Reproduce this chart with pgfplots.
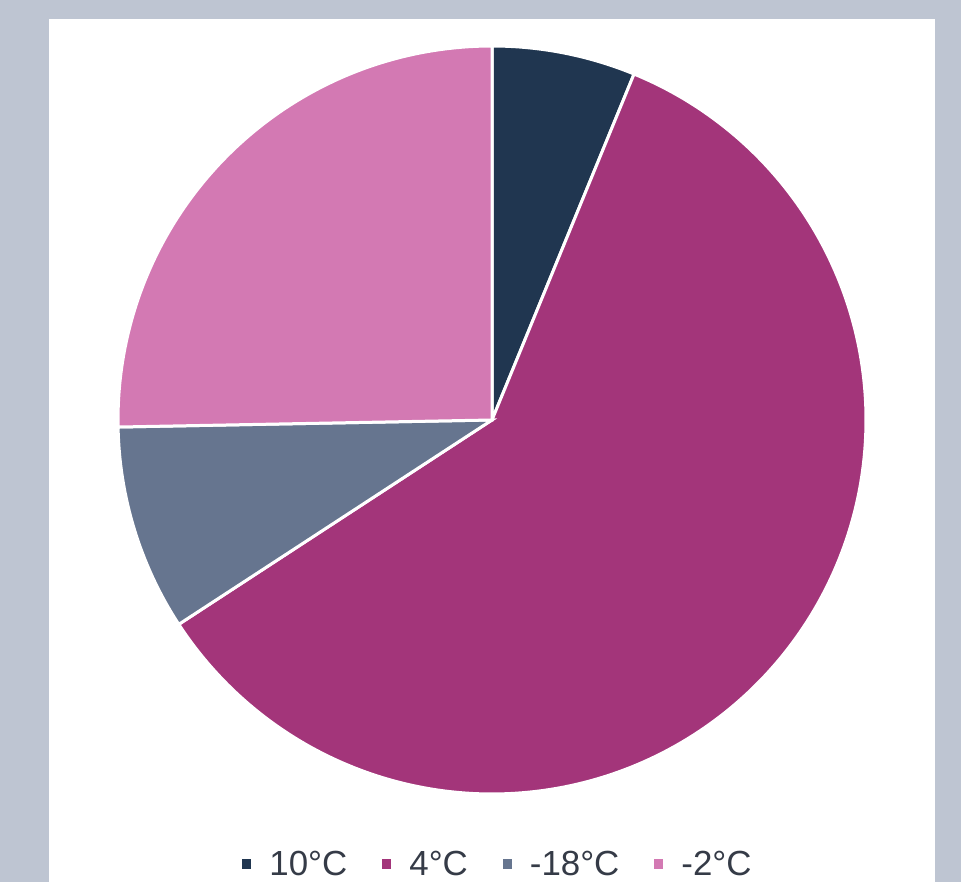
\documentclass[border=0pt]{standalone}
\usepackage{fontspec}
\setmainfont{Liberation Sans}
\usepackage{pgfplots}
\pgfplotsset{compat=1.18}
\definecolor{bg}{HTML}{BEC5D2}
\definecolor{cA}{HTML}{203650}
\definecolor{cB}{HTML}{A3357A}
\definecolor{cC}{HTML}{66758F}
\definecolor{cD}{HTML}{D379B3}
\definecolor{txt}{HTML}{353B47}
% shares in percent (10°C, 4°C, -18°C, -2°C)
\def\vA{6.2}
\def\vB{59.6}
\def\vC{8.9}
\def\vD{25.3}
\pgfmathsetmacro{\aA}{90}
\pgfmathsetmacro{\aB}{\aA-3.6*\vA}
\pgfmathsetmacro{\aC}{\aB-3.6*\vB}
\pgfmathsetmacro{\aD}{\aC-3.6*\vC}
\pgfmathsetmacro{\aE}{\aD-3.6*\vD}
\begin{document}
\begin{tikzpicture}
\begin{axis}[
  scale only axis, width=961bp, height=882bp,
  xmin=0, xmax=961, ymin=0, ymax=882,
  hide axis, clip=false,
  legend columns=4,
  legend style={at={(axis cs:497,18)}, anchor=center, draw=none, fill=none,
    font=\fontsize{35}{38}\selectfont, text=txt,
    nodes={inner sep=0pt},
    /tikz/every odd column/.append style={column sep=18bp},
    /tikz/every even column/.append style={column sep=35bp}},
  legend image code/.code={\fill[#1,draw=none] (0bp,-4.5bp) rectangle (9bp,4.5bp);},
]
\fill[bg] (axis cs:0,0) rectangle (axis cs:961,882);
\fill[white] (axis cs:49,0) rectangle (axis cs:935,863);

\addplot[fill=cA, draw=white, line width=3bp, domain=\aB:\aA, samples=40, forget plot]
  ({492+374*cos(x)},{462+374*sin(x)}) -- (axis cs:492,462) -- cycle;
\addplot[fill=cB, draw=white, line width=3bp, domain=\aC:\aB, samples=200, forget plot]
  ({492+374*cos(x)},{462+374*sin(x)}) -- (axis cs:492,462) -- cycle;
\addplot[fill=cC, draw=white, line width=3bp, domain=\aD:\aC, samples=40, forget plot]
  ({492+374*cos(x)},{462+374*sin(x)}) -- (axis cs:492,462) -- cycle;
\addplot[fill=cD, draw=white, line width=3bp, domain=\aE:\aD, samples=100, forget plot]
  ({492+374*cos(x)},{462+374*sin(x)}) -- (axis cs:492,462) -- cycle;

\addlegendimage{fill=cA}\addlegendentry{10°C}
\addlegendimage{fill=cB}\addlegendentry{4°C}
\addlegendimage{fill=cC}\addlegendentry{-18°C}
\addlegendimage{fill=cD}\addlegendentry{-2°C}
\end{axis}
\end{tikzpicture}
\end{document}
